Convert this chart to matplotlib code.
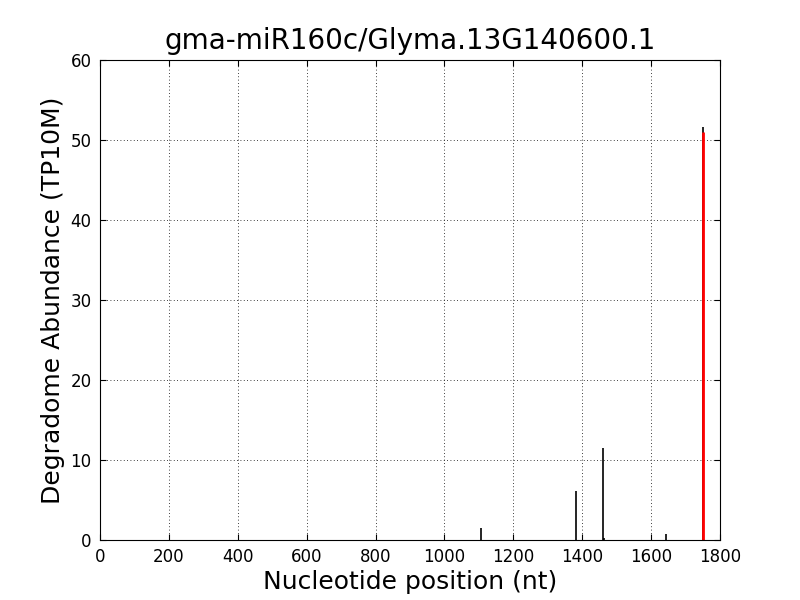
import matplotlib
matplotlib.use("Agg")
import matplotlib.pyplot as plt

positions = [1106, 1382, 1459, 1464, 1644, 1750]
abundance = [1.45, 6.1, 11.5, 0.3, 0.7, 51.6]
site_pos = [1750]
site_val = [51.0]

fig = plt.figure(figsize=(8, 6), dpi=100)
ax = fig.add_axes([0.125, 0.1, 0.775, 0.8])
ax.vlines(positions, 0, abundance, colors='black', linewidth=1.2)
ax.vlines(site_pos, 0, site_val, colors='red', linewidth=2)
ax.set_xlim(0, 1800)
ax.set_ylim(0, 60)
ax.set_xticks(range(0, 1801, 200))
ax.set_yticks(range(0, 61, 10))
ax.grid(True, linestyle=(0, (1, 3)), color='black', linewidth=0.6)
ax.tick_params(direction='in', labelsize=12, top=True, right=True, length=4, pad=6)
ax.set_title('gma-miR160c/Glyma.13G140600.1', fontsize=20, pad=8)
ax.set_xlabel('Nucleotide position (nt)', fontsize=18, labelpad=3)
ax.set_ylabel('Degradome Abundance (TP10M)', fontsize=18)
fig.savefig('out.png', dpi=100)
